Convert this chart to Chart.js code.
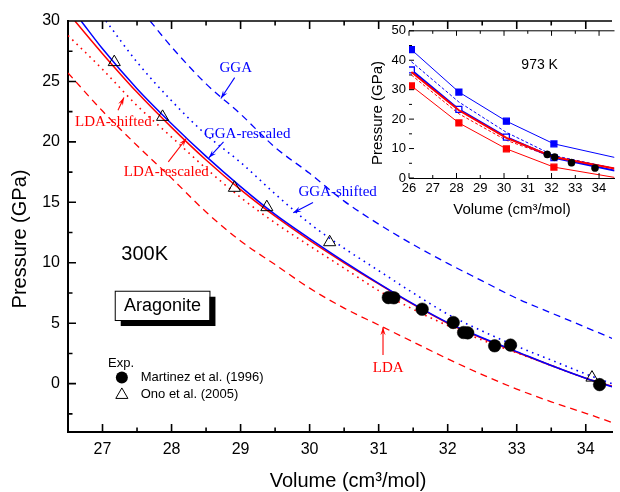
<!DOCTYPE html>
<html>
<head>
<meta charset="utf-8">
<script src="https://cdn.jsdelivr.net/npm/chart.js@4.4.1/dist/chart.umd.min.js"></script>
<style>
html,body{margin:0;padding:0;background:#fff;}
#wrap{position:relative;width:620px;height:492px;overflow:hidden;background:#fff;}
#main{position:absolute;left:0;top:0;}
#inset{position:absolute;left:360px;top:20px;}
</style>
</head>
<body>
<div id="wrap">
<canvas id="main" width="620" height="492"></canvas>
<canvas id="inset" width="260" height="205"></canvas>
</div>
<script>
// ---------------- main panel (300 K) ----------------
const xTicks = [27, 28, 29, 30, 31, 32, 33, 34];
const xMinorTicks = [27.5, 28.5, 29.5, 30.5, 31.5, 32.5, 33.5];
const yTicks = [0, 5, 10, 15, 20, 25, 30];
const yMinorTicks = [-2.5, 2.5, 7.5, 12.5, 17.5, 22.5, 27.5];

const volGGA  = [27.69, 28.0, 28.5, 29.0, 29.5, 30.0, 30.5, 31.0, 31.5, 32.0, 32.5, 33.0, 33.5, 34.0, 34.4];
const presGGA = [30, 27.85, 24.8, 22.3, 19.55, 17.4, 15.1, 13.2, 11.5, 9.95, 8.5, 7.06, 5.85, 4.66, 3.7];

const volGGAshift  = [27.05, 27.5, 28.0, 28.5, 29.0, 29.5, 30.0, 30.5, 31.0, 31.5, 32.0, 32.5, 33.0, 33.5, 34.0, 34.4];
const presGGAshift = [30, 26.6, 23.4, 20.6, 18.3, 15.7, 13.25, 11.2, 9.35, 7.5, 5.75, 4.35, 3.1, 1.95, 0.8, -0.05];

const volGGAresc  = [26.69, 27.0, 27.5, 28.0, 28.5, 29.0, 29.5, 30.0, 30.5, 31.0, 31.5, 32.0, 32.5, 33.0, 33.5, 34.0, 34.4];
const presGGAresc = [30, 27.7, 24.4, 21.5, 18.8, 16.3, 14.0, 12.0, 10.1, 8.3, 6.6, 5.05, 3.8, 2.65, 1.5, 0.45, -0.3];

const volLDAresc  = [26.6, 27.0, 27.5, 28.0, 28.5, 29.0, 29.5, 30.0, 30.5, 31.0, 31.5, 32.0, 32.5, 33.0, 33.5, 34.0, 34.4];
const presLDAresc = [30, 27.3, 24.1, 21.2, 18.5, 16.05, 13.85, 11.85, 10.0, 8.25, 6.55, 5.0, 3.75, 2.6, 1.5, 0.45, -0.25];

const volLDAshift  = [26.5, 27.0, 27.5, 28.0, 28.5, 29.0, 29.5, 30.0, 30.5, 31.0, 31.5, 32.0, 32.5, 33.0, 33.5, 34.0, 34.4];
const presLDAshift = [28.8, 26.0, 23.0, 20.4, 17.8, 15.4, 13.3, 11.4, 9.55, 7.7, 6.15, 4.8, 3.6, 2.55, 1.5, 0.45, -0.25];

const volLDA  = [26.5, 27.0, 27.5, 28.0, 28.5, 29.0, 29.5, 30.0, 30.5, 31.0, 31.5, 32.0, 32.5, 33.0, 33.5, 34.0, 34.4];
const presLDA = [25.7, 22.55, 19.7, 17.0, 14.2, 11.8, 9.85, 7.9, 6.25, 4.85, 3.45, 2.05, 0.75, -0.45, -1.5, -2.45, -3.25];

// experiments
const volMartinez  = [31.14, 31.22, 31.63, 32.08, 32.23, 32.29, 32.68, 32.91, 34.2];
const presMartinez = [7.12, 7.1, 6.16, 5.06, 4.23, 4.2, 3.13, 3.19, -0.08];
const volOno  = [27.17, 27.87, 28.91, 29.38, 30.29, 34.09];
const presOno = [26.6, 22.07, 16.2, 14.6, 11.7, 0.5];

// ---------------- inset (973 K) ----------------
const insetXTicks = [26, 27, 28, 29, 30, 31, 32, 33, 34];
const insetXMajor = [26, 28, 30, 32, 34];
const insetXMinor = [27, 29, 31, 33];
const insetYTicks = [0, 10, 20, 30, 40, 50];
const insetYMinor = [5, 15, 25, 35, 45];

const insetVol      = [26.1, 28.1, 30.1, 32.1, 34.65];
const insetGGA      = [43.6, 29.2, 19.3, 11.6, 7.0];
const insetGGAresc  = [36.7, 23.3, 13.9, 6.9, 2.5];
const insetLDAresc  = [36.0, 23.0, 13.6, 7.1, 3.2];
const insetGGAshift = [39.5, 25.8, 15.5, 7.6, 3.3];
const insetLDAshift = [35.0, 21.8, 12.8, 7.0, 2.6];
const insetLDA      = [31.3, 18.7, 9.9, 3.7, 0.2];
const insetExpVol   = [31.82, 32.13, 32.84, 33.83];
const insetExpPres  = [8.0, 7.1, 5.2, 3.4];

const BLUE = '#0000FF', RED = '#FF0000';
const SANS = '"Liberation Sans", Arial, sans-serif';
const SERIF = '"Liberation Serif", "Times New Roman", serif';

function pts(v, p) { return v.map((x, i) => ({ x: x, y: p[i] })); }
function curve(label, v, p, color, dash, width) {
  return { label: label, data: pts(v, p), showLine: true, borderColor: color, backgroundColor: color,
    borderWidth: width, borderDash: dash, pointRadius: 0, pointHoverRadius: 0,
    cubicInterpolationMode: 'monotone', order: 1 };
}

// annotation placements (data coordinates)
const notes = [
  { text: 'GGA', color: BLUE, at: [28.93, 26.09], tail: [28.914, 25.32], tip: [28.714, 23.59] },
  { text: 'GGA-rescaled', color: BLUE, at: [29.096, 20.64], tail: [28.753, 20.0], tip: [28.539, 18.68] },
  { text: 'GGA-shifted', color: BLUE, at: [30.406, 15.82], tail: [30.049, 14.99], tip: [29.763, 14.13] },
  { text: 'LDA-shifted', color: RED, at: [27.157, 21.63], tail: [27.224, 22.62], tip: [27.31, 23.67] },
  { text: 'LDA-rescaled', color: RED, at: [27.924, 17.47], tail: [27.953, 18.35], tip: [28.214, 20.28] },
  { text: 'LDA', color: RED, at: [31.139, 1.27], tail: [31.063, 2.37], tip: [31.063, 4.66] }
];

function arrow(ctx, x1, y1, x2, y2, color) {
  ctx.save();
  ctx.strokeStyle = color; ctx.fillStyle = color; ctx.lineWidth = 1.1;
  ctx.beginPath(); ctx.moveTo(x1, y1); ctx.lineTo(x2, y2); ctx.stroke();
  const a = Math.atan2(y2 - y1, x2 - x1), L = 8, W = 2.6;
  const bx = x2 - L * Math.cos(a), by = y2 - L * Math.sin(a);
  ctx.beginPath();
  ctx.moveTo(x2, y2);
  ctx.lineTo(bx + W * Math.sin(a), by - W * Math.cos(a));
  ctx.lineTo(x2 - 5 * Math.cos(a), y2 - 5 * Math.sin(a));
  ctx.lineTo(bx - W * Math.sin(a), by + W * Math.cos(a));
  ctx.closePath(); ctx.fill();
  ctx.restore();
}

function frameTicks(chart, xMaj, xMin, yMaj, yMin, majLen, minLen, lw) {
  const { ctx, chartArea: a, scales: { x, y } } = chart;
  ctx.save();
  ctx.strokeStyle = '#000'; ctx.lineWidth = lw;
  ctx.beginPath();
  ctx.moveTo(a.left, a.top); ctx.lineTo(a.right, a.top);
  const tx = (v, len) => { const p = x.getPixelForValue(v);
    ctx.moveTo(p, a.bottom); ctx.lineTo(p, a.bottom - len);
    ctx.moveTo(p, a.top); ctx.lineTo(p, a.top + len); };
  const ty = (v, len) => { const p = y.getPixelForValue(v);
    ctx.moveTo(a.left, p); ctx.lineTo(a.left + len, p); };
  xMaj.forEach(v => tx(v, majLen)); xMin.forEach(v => tx(v, minLen));
  yMaj.forEach(v => ty(v, majLen)); yMin.forEach(v => ty(v, minLen));
  ctx.stroke();
  ctx.restore();
}

const mainDecor = {
  id: 'mainDecor',
  afterDraw(chart) {
    const { ctx, scales: { x, y } } = chart;
    const X = v => x.getPixelForValue(v), Y = v => y.getPixelForValue(v);
    frameTicks(chart, xTicks, xMinorTicks, yTicks, yMinorTicks, 8, 4.5, 1.6);

    // annotations
    ctx.save();
    ctx.font = '15px ' + SERIF; ctx.textAlign = 'center'; ctx.textBaseline = 'middle';
    notes.forEach(n => {
      ctx.fillStyle = n.color;
      ctx.fillText(n.text, X(n.at[0]), Y(n.at[1]));
      arrow(ctx, X(n.tail[0]), Y(n.tail[1]), X(n.tip[0]), Y(n.tip[1]), n.color);
    });
    ctx.restore();

    ctx.save();
    ctx.fillStyle = '#000'; ctx.textBaseline = 'middle';
    // 300K
    ctx.font = '20px ' + SANS; ctx.textAlign = 'center';
    ctx.fillText('300K', X(27.61), Y(10.72));
    // Aragonite box with shadow
    const bl = X(27.177), br = X(28.549), bt = Y(7.686), bb = Y(5.264);
    ctx.fillStyle = '#000'; ctx.fillRect(bl + 6, bt + 6, br - bl, bb - bt);
    ctx.fillStyle = '#fff'; ctx.fillRect(bl, bt, br - bl, bb - bt);
    ctx.strokeStyle = '#000'; ctx.lineWidth = 1; ctx.strokeRect(bl + 0.5, bt + 0.5, br - bl, bb - bt);
    ctx.fillStyle = '#000'; ctx.font = '18px ' + SANS;
    ctx.fillText('Aragonite', (bl + br) / 2 + 0.5, (bt + bb) / 2 + 1);
    // legend
    ctx.font = '13px ' + SANS; ctx.textAlign = 'left';
    ctx.fillText('Exp.', X(27.08), Y(1.71));
    ctx.fillText('Martinez et al. (1996)', X(27.553), Y(0.5));
    ctx.fillText('Ono et al. (2005)', X(27.553), Y(-0.85));
    ctx.beginPath(); ctx.arc(X(27.28), Y(0.5), 6, 0, Math.PI * 2); ctx.fill();
    const tcx = X(27.28), tcy = Y(-0.85) + 1, r = 7;
    ctx.beginPath();
    ctx.moveTo(tcx, tcy - r); ctx.lineTo(tcx + r * 0.866, tcy + r / 2); ctx.lineTo(tcx - r * 0.866, tcy + r / 2); ctx.closePath();
    ctx.lineWidth = 1; ctx.stroke();
    // axis titles
    ctx.textAlign = 'center';
    ctx.font = '20px ' + SANS;
    ctx.fillText('Volume (cm\u00B3/mol)', 348, 481);
    ctx.translate(20, 239); ctx.rotate(-Math.PI / 2);
    ctx.fillText('Pressure (GPa)', 0, 0);
    ctx.restore();
  }
};

new Chart(document.getElementById('main'), {
  type: 'scatter',
  data: {
    datasets: [
      { label: 'Martinez et al. (1996)', data: pts(volMartinez, presMartinez), pointStyle: 'circle',
        pointRadius: 6.3, backgroundColor: '#000', borderColor: '#000', borderWidth: 0.5, order: 0 },
      { label: 'Ono et al. (2005)', data: pts(volOno, presOno), pointStyle: 'triangle',
        pointRadius: 7, backgroundColor: 'rgba(0,0,0,0)', borderColor: '#000', borderWidth: 1, order: 0 },
      curve('GGA-rescaled', volGGAresc, presGGAresc, BLUE, [], 1.5),
      curve('GGA-shifted', volGGAshift, presGGAshift, BLUE, [1.6, 4.4], 1.6),
      curve('GGA', volGGA, presGGA, BLUE, [7, 5], 1.3),
      curve('LDA-rescaled', volLDAresc, presLDAresc, RED, [], 1.5),
      curve('LDA-shifted', volLDAshift, presLDAshift, RED, [1.6, 4.4], 1.6),
      curve('LDA', volLDA, presLDA, RED, [7, 5], 1.3)
    ]
  },
  options: {
    responsive: false, animation: false, events: [],
    layout: { padding: { top: 21, left: 0, right: 0, bottom: 0 } },
    plugins: { legend: { display: false }, tooltip: { enabled: false } },
    scales: {
      x: { type: 'linear', min: 26.5, max: 34.38,
        afterBuildTicks: s => { s.ticks = xTicks.map(v => ({ value: v })); },
        afterFit: s => { s.height = 60; },
        grid: { display: false, drawTicks: false },
        border: { display: true, color: '#000', width: 2 },
        ticks: { padding: 8, color: '#000', font: { family: SANS, size: 16 }, maxRotation: 0, callback: v => String(v) } },
      y: { type: 'linear', min: -4, max: 30,
        afterBuildTicks: s => { s.ticks = yTicks.map(v => ({ value: v })); },
        afterFit: s => { s.width = 68; },
        grid: { display: false, drawTicks: false },
        border: { display: true, color: '#000', width: 2 },
        ticks: { padding: 8, color: '#000', font: { family: SANS, size: 16 }, callback: v => String(v) } }
    }
  },
  plugins: [mainDecor]
});

// ---------------- inset chart ----------------
const insetDecor = {
  id: 'insetDecor',
  beforeDatasetsDraw(chart) {
    const { ctx, chartArea: a } = chart;
    ctx.save(); ctx.fillStyle = '#fff'; ctx.fillRect(a.left, a.top, a.right - a.left, a.bottom - a.top); ctx.restore();
  },
  afterDraw(chart) {
    const { ctx, scales: { x, y } } = chart;
    frameTicks(chart, insetXMajor, insetXMinor, insetYTicks, insetYMinor, 5, 3, 1);
    ctx.save();
    ctx.fillStyle = '#000'; ctx.textAlign = 'center'; ctx.textBaseline = 'middle';
    ctx.font = '14px ' + SANS;
    ctx.fillText('973 K', x.getPixelForValue(31.5), y.getPixelForValue(38.5));
    ctx.font = '15px ' + SANS;
    ctx.fillText('Volume (cm\u00B3/mol)', 152, 190);
    ctx.translate(18, 93); ctx.rotate(-Math.PI / 2);
    ctx.fillText('Pressure (GPa)', 0, 0);
    ctx.restore();
  }
};

function insetLine(label, p, color, width, dash, marker) {
  return { label: label, data: pts(insetVol, p), showLine: true, borderColor: color, borderWidth: width,
    borderDash: dash, tension: 0, order: 1,
    pointStyle: 'rect',
    pointRadius: marker ? (c => c.dataIndex < 4 ? 4.2 : 0) : 0,
    pointBackgroundColor: marker === 'open' ? '#fff' : color,
    pointBorderColor: color, pointBorderWidth: 1.3 };
}

new Chart(document.getElementById('inset'), {
  type: 'scatter',
  data: {
    datasets: [
      { label: 'Exp.', data: pts(insetExpVol, insetExpPres), pointStyle: 'circle', pointRadius: 3.6,
        backgroundColor: '#000', borderColor: '#000', borderWidth: 0.5, order: 0 },
      insetLine('LDA-rescaled', insetLDAresc, RED, 2, [], null),
      insetLine('GGA-rescaled', insetGGAresc, BLUE, 2, [], 'open'),
      insetLine('GGA', insetGGA, BLUE, 1, [], 'filled'),
      insetLine('GGA-shifted', insetGGAshift, BLUE, 1, [3, 2], null),
      insetLine('LDA-shifted', insetLDAshift, RED, 1, [3, 2], null),
      insetLine('LDA', insetLDA, RED, 1, [], 'filled')
    ]
  },
  options: {
    responsive: false, animation: false, events: [],
    layout: { padding: { top: 10, left: 0, right: 0, bottom: 0 } },
    plugins: { legend: { display: false }, tooltip: { enabled: false } },
    scales: {
      x: { type: 'linear', min: 26, max: 34.65,
        afterBuildTicks: s => { s.ticks = insetXTicks.map(v => ({ value: v })); },
        afterFit: s => { s.height = 47; },
        grid: { display: false, drawTicks: false },
        border: { display: true, color: '#000', width: 1 },
        ticks: { padding: 3, color: '#000', font: { family: SANS, size: 13 }, maxRotation: 0, callback: v => String(v) } },
      y: { type: 'linear', min: 0, max: 50,
        afterBuildTicks: s => { s.ticks = insetYTicks.map(v => ({ value: v })); },
        afterFit: s => { s.width = 49; },
        grid: { display: false, drawTicks: false },
        border: { display: true, color: '#000', width: 1 },
        ticks: { padding: 3, color: '#000', font: { family: SANS, size: 13 }, callback: v => String(v) } }
    }
  },
  plugins: [insetDecor]
});
</script>
</body>
</html>
